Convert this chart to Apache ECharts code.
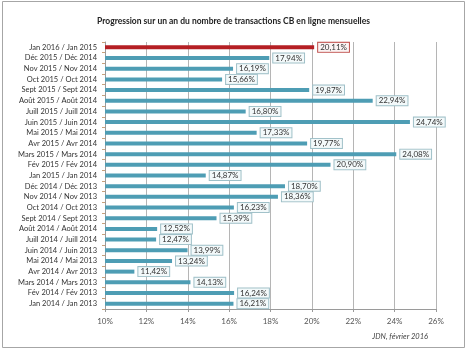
<!DOCTYPE html>
<html>
<head>
<meta charset="utf-8">
<script src="https://cdn.jsdelivr.net/npm/echarts@6/dist/echarts.min.js"></script>
<style>
html, body { margin: 0; padding: 0; background: #fff; }
#chart { width: 467px; height: 351px; }
</style>
</head>
<body>
<div id="chart"></div>
<script>
var categories = [
    'Jan 2016 / Jan 2015', 'Déc 2015 / Déc 2014', 'Nov 2015 / Nov 2014', 'Oct 2015 / Oct 2014',
    'Sept 2015 / Sept 2014', 'Août 2015 / Août 2014', 'Juill 2015 / Juill 2014', 'Juin 2015 / Juin 2014',
    'Mai 2015 / Mai 2014', 'Avr 2015 / Avr 2014', 'Mars 2015 / Mars 2014', 'Fév 2015 / Fév 2014',
    'Jan 2015 / Jan 2014', 'Déc 2014 / Déc 2013', 'Nov 2014 / Nov 2013', 'Oct 2014 / Oct 2013',
    'Sept 2014 / Sept 2013', 'Août 2014 / Août 2014', 'Juill 2014 / Juill 2014', 'Juin 2014 / Juin 2013',
    'Mai 2014 / Mai 2013', 'Avr 2014 / Avr 2013', 'Mars 2014 / Mars 2013', 'Fév 2014 / Fév 2013',
    'Jan 2014 / Jan 2013'
];
var values = [
    20.11, 17.94, 16.19, 15.66, 19.87, 22.94, 16.80, 24.74, 17.33, 19.77, 24.08, 20.90,
    14.87, 18.70, 18.36, 16.23, 15.39, 12.52, 12.47, 13.99, 13.24, 11.42, 14.13, 16.24, 16.21
];
var highlightIndex = 0; // dernier mois en rouge

var chart = echarts.init(document.getElementById('chart'));

var barData = values.map(function (v, i) {
    if (i === highlightIndex) {
        return {
            value: v,
            itemStyle: {color: '#b51f24'},
            barWidth: 5,
            label: {borderColor: '#c0504d', backgroundColor: '#fbf3f3'}
        };
    }
    return v;
});

var option = {
    animation: false,
    textStyle: {fontFamily: 'Lato'},
    graphic: [
        {
            type: 'rect',
            shape: {x: 2.5, y: 1.5, width: 462, height: 346},
            style: {fill: 'none', stroke: '#a6a6a6', lineWidth: 1}
        },
        {
            type: 'text',
            left: 'center',
            top: 17,
            style: {
                text: 'Progression sur un an du nombre de transactions CB en ligne mensuelles',
                font: 'bold 8.5px Lato',
                fill: '#222'
            }
        },
        {
            type: 'text',
            right: 39,
            top: 333,
            style: {
                text: 'JDN, février 2016',
                font: 'italic 7.5px Lato',
                fill: '#444'
            }
        }
    ],
    grid: {left: 105, right: 31, top: 42, bottom: 42, containLabel: false},
    xAxis: {
        type: 'value',
        min: 10,
        max: 26,
        interval: 2,
        axisLine: {show: true, lineStyle: {color: '#9a9a9a'}},
        axisTick: {show: true, length: 3, lineStyle: {color: '#9a9a9a'}},
        axisLabel: {
            formatter: '{value}%',
            fontSize: 8,
            color: '#555',
            margin: 8
        },
        splitLine: {show: true, lineStyle: {color: '#b5b5b5', width: 1}}
    },
    yAxis: {
        type: 'category',
        data: categories,
        inverse: true,
        axisLine: {show: true, lineStyle: {color: '#9a9a9a'}},
        axisTick: {show: true, length: 3, lineStyle: {color: '#c9a07a'}},
        axisLabel: {fontSize: 7.5, color: '#333', margin: 8}
    },
    series: [
        {
            type: 'bar',
            data: barData,
            barWidth: 4,
            itemStyle: {color: '#4e9db4'},
            label: {
                show: true,
                position: 'right',
                distance: 4,
                fontSize: 8,
                color: '#333',
                backgroundColor: '#f3f9fa',
                borderColor: '#9fc0c8',
                borderWidth: 1,
                padding: [1, 2, 0, 2],
                formatter: function (p) {
                    return p.value.toFixed(2).replace('.', ',') + '%';
                }
            }
        }
    ]
};

chart.setOption(option);
</script>
</body>
</html>
